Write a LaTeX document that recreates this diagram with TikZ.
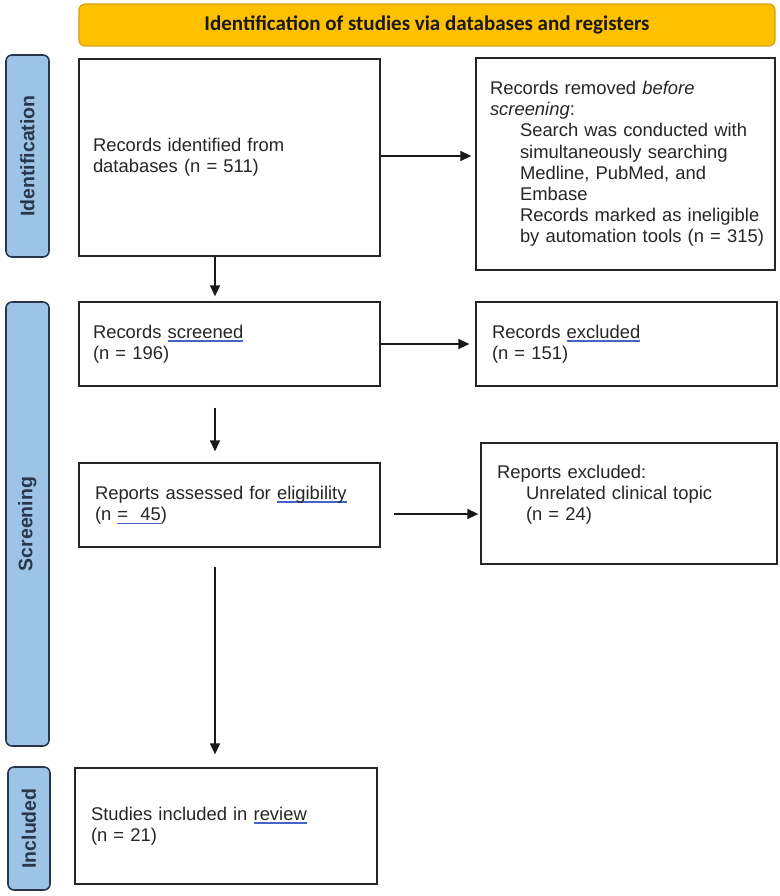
\documentclass[tikz,border=0pt]{standalone}
\usepackage{fontspec}
\setmainfont{Liberation Sans}
\newfontfamily\hdrfont{Carlito}
\usetikzlibrary{arrows.meta}
\definecolor{hdrfill}{RGB}{255,192,0}
\definecolor{hdrline}{RGB}{215,160,20}
\definecolor{sidefill}{RGB}{157,195,230}
\definecolor{sideline}{RGB}{40,55,75}
\definecolor{gramblue}{RGB}{70,100,200}
\newlength\blw
\newcommand\bluline[1]{\settowidth\blw{#1}\rlap{\textcolor{gramblue}{\rule[-3.6pt]{\blw}{1.4pt}}}#1}
\begin{document}
\begin{tikzpicture}[x=1pt,y=-1pt,
  box/.style={draw=black!85,line width=1.3pt,fill=white,inner xsep=14pt,inner ysep=0pt,align=left,
    font=\fontsize{18.4}{21.2}\selectfont,text=black!85},
  side/.style={draw=sideline,line width=1.6pt,fill=sidefill,rounded corners=6pt,inner sep=0pt,
    font=\fontsize{19.5}{22}\selectfont\bfseries,text=sideline},
  arr/.style={line width=1.4pt,black!90,-{Triangle[length=11pt,width=10pt]}}]
\useasboundingbox (0,0) rectangle (779,896);
% header
\node[draw=hdrline,line width=1.2pt,fill=hdrfill,rounded corners=6pt,minimum width=696pt,minimum height=42pt,
  font=\hdrfont\fontsize{21}{24}\selectfont\bfseries,text=black!90] (hdr) at (427,25)
  {Identification of studies via databases and registers};
% side labels
\node[side,minimum width=43pt,minimum height=202pt] (idl) at (27.5,156) {\rotatebox{90}{Identification}};
\node[side,minimum width=43pt,minimum height=444pt] (scl) at (27.5,524) {\rotatebox{90}{Screening}};
\node[side,minimum width=42pt,minimum height=123pt] (inl) at (29,828.5) {\rotatebox{90}{Included}};
% boxes
\node[box,text width=273pt,minimum height=197pt] (ide) at (229.5,157.5)
  {Records identified from\\databases (n = 511)};
\node[box,text width=271pt,minimum height=212pt] (rem) at (625.5,164)
  {Records removed \textit{before}\\\textit{screening}:\\
   \hspace*{30pt}Search was conducted with\\
   \hspace*{30pt}simultaneously searching\\
   \hspace*{30pt}Medline, PubMed, and\\
   \hspace*{30pt}Embase\\
   \hspace*{30pt}\mbox{Records marked as ineligible}\\
   \hspace*{30pt}\mbox{by automation tools (n = 315)}};
\node[box,text width=273pt,minimum height=84pt] (scr) at (229.5,344)
  {Records \bluline{screened}\\(n = 196)};
\node[box,inner xsep=16pt,text width=269pt,minimum height=84pt] (exc) at (626.5,344)
  {Records \bluline{excluded}\\(n = 151)};
\node[box,inner xsep=16pt,text width=269pt,minimum height=84pt] (ass) at (229.5,505)
  {Reports assessed for \bluline{eligibility}\\(n \bluline{=~~45})};
\node[box,inner xsep=16pt,text width=264pt,minimum height=121pt] (rex) at (629,503.5)
  {Reports excluded:\\\hspace*{29pt}Unrelated clinical topic\\\hspace*{29pt}(n = 24)\\\mbox{}};
\node[box,inner xsep=16pt,text width=270pt,minimum height=116pt] (inc) at (226,826)
  {Studies included in \bluline{review}\\(n = 21)};
% connectors
\coordinate (ax) at (215,0);
\draw[arr,shorten >=4pt] (ide.east |- 0,156) -- (rem.west |- 0,156);
\draw[arr,shorten >=5pt] (ide.south -| ax) -- (scr.north -| ax);
\draw[arr,shorten >=6pt] (scr.east) -- (exc.west);
\draw[arr,shorten <=21pt,shorten >=11pt] (scr.south -| ax) -- (ass.north -| ax);
\draw[arr,shorten <=13pt,shorten >=2pt] (ass.east |- 0,514) -- (rex.west |- 0,514);
\draw[arr,shorten <=19pt,shorten >=13pt] (ass.south -| ax) -- (inc.north -| ax);
\end{tikzpicture}
\end{document}
